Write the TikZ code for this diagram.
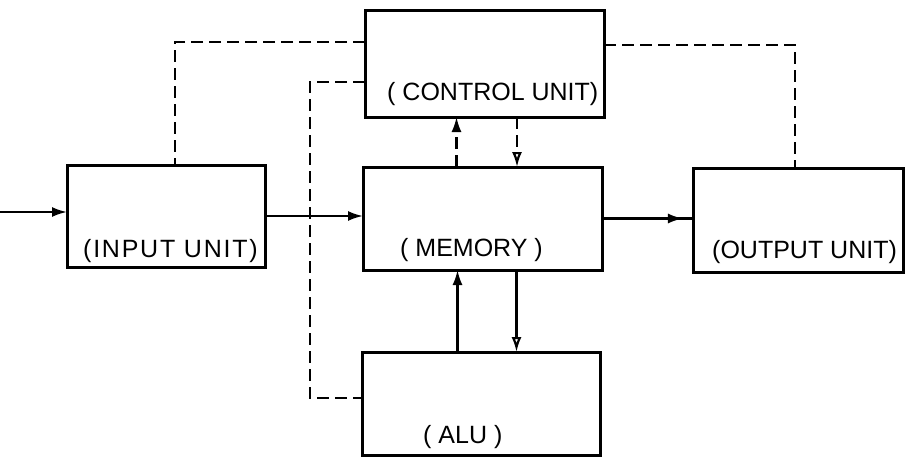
\documentclass[tikz,border=0pt]{standalone}
\usepackage{fontspec}
\setmainfont{Liberation Sans}
\usetikzlibrary{arrows.meta,decorations.markings}
\begin{document}
\begin{tikzpicture}[x=1pt,y=-1pt,
  unitbox/.style={draw,line width=3pt,inner sep=0pt,outer sep=0pt},
  lbl/.style={anchor=base west,inner sep=0pt,font=\fontsize{25}{25}\selectfont},
  flow/.style={line width=2.2pt},
  ctrl/.style={line width=2.2pt,dash pattern=on 12pt off 6pt},
  fhead/.style={-{Latex[length=15pt,width=10pt]}},
  ohead/.style={-{Latex[open,length=15pt,width=10pt,fill=white]}},
  midhead/.style={postaction={decorate},decoration={markings,
     mark=at position #1 with {\arrow{Latex[length=15pt,width=10pt]}}}}]
\useasboundingbox (0,0) rectangle (910,458);

% units
\node[unitbox,minimum width=198pt,minimum height=102pt] (in)  at (166,216) {};
\node[unitbox,minimum width=239pt,minimum height=107pt] (ctl) at (484.5,63.5) {};
\node[unitbox,minimum width=239pt,minimum height=103pt] (mem) at (482.5,218.5) {};
\node[unitbox,minimum width=210pt,minimum height=104pt] (out) at (798,220) {};
\node[unitbox,minimum width=238pt,minimum height=103pt] (alu) at (481,403.5) {};

% labels
\node[lbl] (tctl) at (387,100) {( CONTROL UNIT)};
\node[lbl] (tin)  at (83,257)  {\addfontfeature{LetterSpace=7}(INPUT UNIT)};
\node[lbl] (tmem) at (400,256) {( MEMORY )};
\node[lbl] (tout) at (712,258) {(OUTPUT UNIT)};
\node[lbl] (talu) at (423,443) {( ALU )};

% data flow
\coordinate (src) at (0,212);
\draw[flow,fhead] (src) -- (src -| in.west);
\draw[flow,fhead] (in.east) -- (in.east -| mem.west);
\draw[flow,midhead=0.89] (mem.east) -- (mem.east -| out.west);

\coordinate (ua) at ([xshift=-25pt]mem.south);
\coordinate (da) at ([xshift=34pt]mem.south);
\draw[flow,fhead] (ua |- alu.north) -- (ua);
\draw[flow,ohead] (da) -- (da |- alu.north);

% control lines
\coordinate (uc) at ([xshift=-26pt]mem.north);
\coordinate (dc) at ([xshift=34.5pt]mem.north);
\draw[ctrl,fhead] (uc) -- (uc |- ctl.south);
\draw[ctrl,ohead] (dc |- ctl.south) -- (dc);

\coordinate (c1) at ([yshift=21.5pt]ctl.west);
\coordinate (ci) at ([xshift=9pt]in.north);
\draw[ctrl] (c1) -| (ci);

\coordinate (c2) at ([yshift=-18.5pt]ctl.west);
\coordinate (a2) at ([yshift=5.5pt]alu.west);
\coordinate (k) at (310,398);
\draw[ctrl] (c2) -| (k) -- (a2);

\coordinate (c3) at ([yshift=18.5pt]ctl.east);
\coordinate (o3) at ([xshift=-3pt]out.north);
\draw[ctrl] (c3) -| (o3);
\end{tikzpicture}
\end{document}
